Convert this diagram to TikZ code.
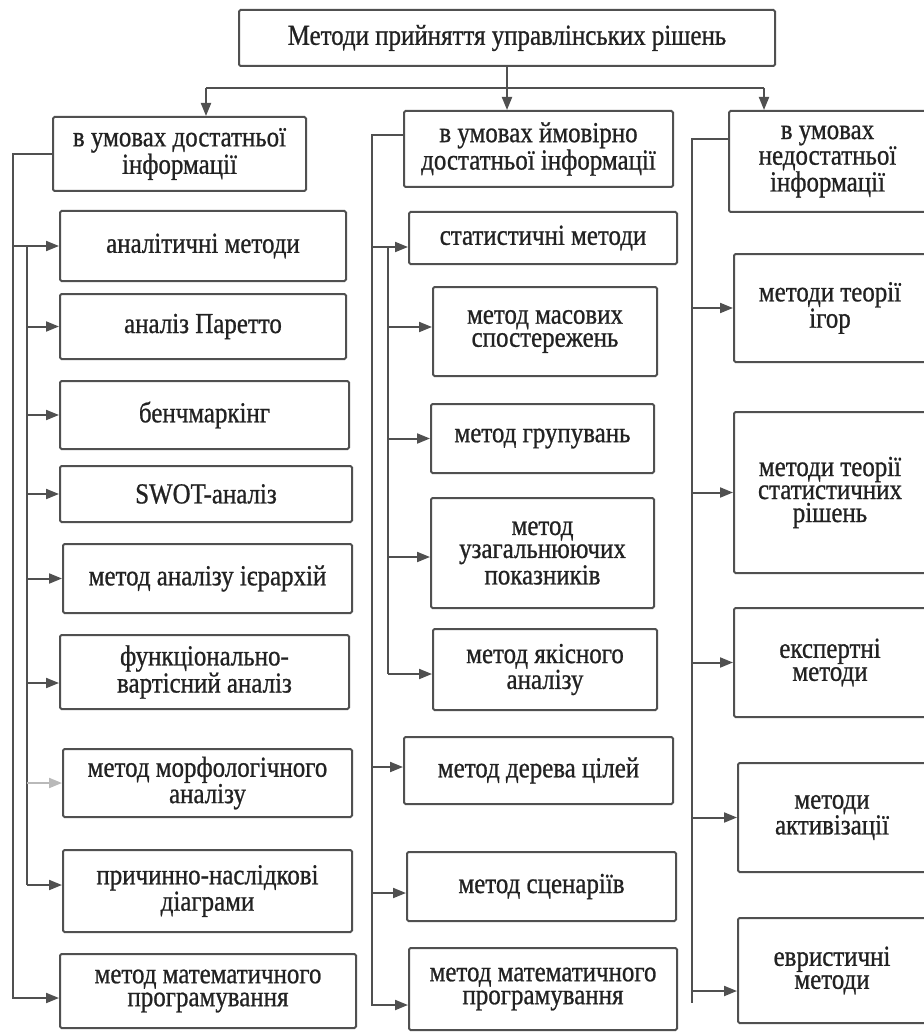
\documentclass[tikz,border=0pt]{standalone}
\usepackage{fontspec}
\setmainfont{Liberation Serif}[FakeStretch=0.86,FakeBold=0.8]
\usetikzlibrary{arrows.meta}
\definecolor{linec}{HTML}{505050}
\definecolor{textc}{HTML}{222222}
\begin{document}
\begin{tikzpicture}[x=1pt,y=-1pt,
  box/.style={draw=linec, line width=2pt, rounded corners=1.5pt, align=center,
    inner sep=0pt, text=textc, font=\fontsize{29}{23}\selectfont},
  conn/.style={draw=linec, line width=2pt},
  arr/.style={conn, -{Triangle[length=13pt,width=10pt]}}]
\useasboundingbox (0,0) rectangle (923,1032);

% top
\node[box, minimum width=536, minimum height=56] (top) at (507,38) {Методи прийняття управлінських рішень};

% column heads
\node[box, minimum width=253, minimum height=74] (L0) at (179.5,154) {в умовах достатньої\\інформації};
\node[box, minimum width=269, minimum height=76] (M0) at (538.5,149) {в умовах ймовірно\\достатньої інформації};
\node[box, minimum width=197, minimum height=101] (R0) at (827.5,161.5) {в умовах\\недостатньої\\інформації};

% left column
\node[box, minimum width=286, minimum height=70] (L1) at (203,246) {аналітичні методи};
\node[box, minimum width=286, minimum height=65] (L2) at (203,326.5) {аналіз Паретто};
\node[box, minimum width=289, minimum height=68] (L3) at (204.5,415) {бенчмаркінг};
\node[box, minimum width=292, minimum height=56] (L4) at (206,494) {SWOT-аналіз};
\node[box, minimum width=289, minimum height=69] (L5) at (207.5,578.5) {метод аналізу ієрархій};
\node[box, minimum width=289, minimum height=74] (L6) at (204.5,672) {функціонально-\\вартісний аналіз};
\node[box, minimum width=289, minimum height=68] (L7) at (207.5,783) {метод морфологічного\\аналізу};
\node[box, minimum width=289, minimum height=82] (L8) at (207.5,891) {причинно-наслідкові\\діаграми};
\node[box, minimum width=296, minimum height=74] (L9) at (208,991) {метод математичного\\програмування};

% middle column
\node[box, minimum width=268, minimum height=52] (M1) at (543,238) {статистичні методи};
\node[box, minimum width=224, minimum height=89] (M2) at (545,331.5) {метод масових\\спостережень};
\node[box, minimum width=223, minimum height=69] (M3) at (542.5,438.5) {метод групувань};
\node[box, minimum width=223, minimum height=110] (M4) at (542.5,553) {метод\\узагальнюючих\\показників};
\node[box, minimum width=224, minimum height=81] (M5) at (545,669.5) {метод якісного\\аналізу};
\node[box, minimum width=269, minimum height=67] (M6) at (538.5,770.5) {метод дерева цілей};
\node[box, minimum width=269, minimum height=69] (M7) at (541.5,886.5) {метод сценаріїв};
\node[box, minimum width=268, minimum height=82] (M8) at (543,989) {метод математичного\\програмування};

% right column
\node[box, minimum width=192, minimum height=108] (R1) at (830,308) {методи теорії\\ігор};
\node[box, minimum width=192, minimum height=161] (R2) at (830,492.5) {методи теорії\\статистичних\\рішень};
\node[box, minimum width=192, minimum height=109] (R3) at (830,662.5) {експертні\\методи};
\node[box, minimum width=188, minimum height=109] (R4) at (832,817.5) {методи\\активізації};
\node[box, minimum width=188, minimum height=105] (R5) at (832,970.5) {евристичні\\методи};

% top connectors
\coordinate (hl) at (206,88);
\coordinate (hr) at (764,88);
\draw[conn] (hl) -- (hr);
\draw[arr] (hl) -- (hl |- L0.north);
\draw[arr] (hr) -- (hr |- R0.north);
\draw[arr] (top.south) -- (top.south |- M0.north);

% left column connectors
\coordinate (lo) at (13,0);
\coordinate (li) at (27,0);
\coordinate (L6a) at ([yshift=-11pt]L6.west);
\coordinate (L8a) at ([yshift=6pt]L8.west);
\coordinate (L9a) at ([yshift=-7pt]L9.west);
\draw[arr] (L0.west) -- (lo |- L0.west) -- (lo |- L9a) -- (L9a);
\draw[arr] (lo |- L1.west) -- (L1.west);
\draw[conn] (li |- L1.west) -- (li |- L8a);
\draw[arr] (li |- L2.west) -- (L2.west);
\draw[arr] (li |- L3.west) -- (L3.west);
\draw[arr] (li |- L4.west) -- (L4.west);
\draw[arr] (li |- L5.west) -- (L5.west);
\draw[arr] (li |- L6a) -- (L6a);
\draw[arr, draw=linec!40] (li |- L7.west) -- (L7.west);
\draw[arr] (li |- L8a) -- (L8a);

% middle column connectors
\coordinate (mo) at (372,0);
\coordinate (mi) at (388,0);
\coordinate (M0a) at ([yshift=14pt]M0.west);
\coordinate (M1a) at ([yshift=-9pt]M1.west);
\coordinate (M2a) at ([yshift=4.5pt]M2.west);
\coordinate (M4a) at ([yshift=-4pt]M4.west);
\coordinate (M5a) at ([yshift=-4.5pt]M5.west);
\coordinate (M6a) at ([yshift=3.5pt]M6.west);
\coordinate (M7a) at ([yshift=-6.5pt]M7.west);
\coordinate (M8a) at ([yshift=-16pt]M8.west);
\draw[arr] (M0a) -- (mo |- M0a) -- (mo |- M8a) -- (M8a);
\draw[arr] (mo |- M1a) -- (M1a);
\draw[conn] (mi |- M1a) -- (mi |- M5a);
\draw[arr] (mi |- M2a) -- (M2a);
\draw[arr] (mi |- M3.west) -- (M3.west);
\draw[arr] (mi |- M4a) -- (M4a);
\draw[arr] (mi |- M5a) -- (M5a);
\draw[arr] (mo |- M6a) -- (M6a);
\draw[arr] (mo |- M7a) -- (M7a);

% right column connectors
\coordinate (ro) at (692,0);
\coordinate (R0a) at ([yshift=22.5pt]R0.west);
\coordinate (R5a) at ([yshift=-20.5pt]R5.west);
\coordinate (rend) at (692,1003);
\draw[conn] (R0a) -- (ro |- R0a) -- (rend);
\draw[arr] (ro |- R1.west) -- (R1.west);
\draw[arr] (ro |- R2.west) -- (R2.west);
\draw[arr] (ro |- R3.west) -- (R3.west);
\draw[arr] (ro |- R4.west) -- (R4.west);
\draw[arr] (ro |- R5a) -- (R5a);
\end{tikzpicture}
\end{document}
